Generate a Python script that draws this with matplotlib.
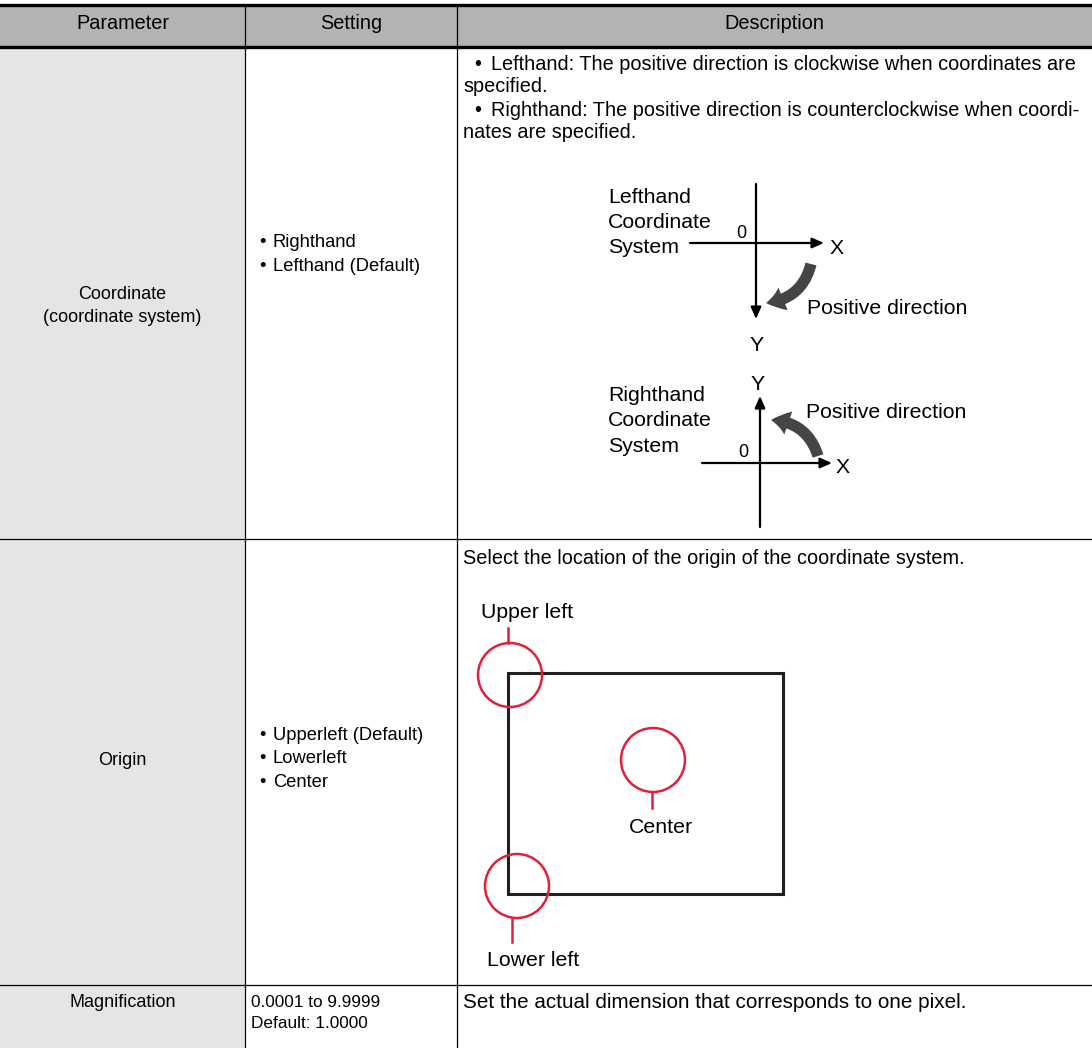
import matplotlib
matplotlib.use("Agg")
import matplotlib.pyplot as plt
from matplotlib.patches import Rectangle, Circle, FancyArrowPatch

plt.rcParams['font.family'] = ['Liberation Sans', 'DejaVu Sans']

W, H = 1092, 1048

# ---- table content ----
headers = ["Parameter", "Setting", "Description"]
col_edges = [0, 245, 457, 1092]
row_edges = [48, 539, 985, 1048]

param_labels = [["Coordinate", "(coordinate system)"], ["Origin"], ["Magnification"]]
param_y = [[293, 316], [759], [1001]]

setting_bullets = [["Righthand", "Lefthand (Default)"],
                   ["Upperleft (Default)", "Lowerleft", "Center"]]
setting_bullet_y = [[241, 265], [734, 757, 781]]
mag_setting = ["0.0001 to 9.9999", "Default: 1.0000"]
mag_setting_y = [1001, 1022]

coord_desc = [("Lefthand: The positive direction is clockwise when coordinates are", True),
              ("specified.", False),
              ("Righthand: The positive direction is counterclockwise when coordi-", True),
              ("nates are specified.", False)]
coord_desc_y = [63, 85, 109, 131]

origin_desc = "Select the location of the origin of the coordinate system."
mag_desc = "Set the actual dimension that corresponds to one pixel."

left_sys = ["Lefthand", "Coordinate", "System"]
right_sys = ["Righthand", "Coordinate", "System"]
origin_labels = ["Upper left", "Center", "Lower left"]

HEADER_GRAY = "#b3b3b3"
PARAM_GRAY = "#e5e5e5"
RED = "#e3203b"
DARK = "#231f20"
ARROW_GRAY = "#454545"

fig = plt.figure(figsize=(W / 100, H / 100), dpi=100)
ax = fig.add_axes([0, 0, 1, 1])
ax.set_xlim(0, W)
ax.set_ylim(H, 0)
ax.axis("off")

FS_HEAD = 14.3
FS_PARAM = 13.0
FS_SET = 13.2
FS_MAGSET = 12.4
FS_DESC = 14.3
FS_MAGDESC = 14.9
FSD = 15.3
FS0 = 13
DY = 1.5


def txt(x, y, s, fs, ha="left"):
    ax.text(x, y + DY, s, ha=ha, va="center", fontsize=fs)


# backgrounds
ax.add_patch(Rectangle((0, 5), W, 42, facecolor=HEADER_GRAY, edgecolor="none"))
ax.add_patch(Rectangle((0, 48), col_edges[1], H - 48, facecolor=PARAM_GRAY, edgecolor="none"))

# grid lines
ax.plot([0, W], [5, 5], color="black", lw=2.4)
ax.plot([0, W], [47, 47], color="black", lw=2.4)
for y in row_edges[1:-1]:
    ax.plot([0, W], [y, y], color="black", lw=0.9)
for x in col_edges[1:-1]:
    ax.plot([x, x], [5, H], color="black", lw=0.9)

# header
for i, h in enumerate(headers):
    txt((col_edges[i] + col_edges[i + 1]) / 2, 22, h, FS_HEAD, ha="center")

# parameter column
for labels, ys in zip(param_labels, param_y):
    for t, y in zip(labels, ys):
        txt(col_edges[1] / 2, y, t, FS_PARAM, ha="center")

# setting column
for lines, ys in zip(setting_bullets, setting_bullet_y):
    for t, y in zip(lines, ys):
        txt(262, y, "•", FS_SET, ha="center")
        txt(273, y, t, FS_SET)
for t, y in zip(mag_setting, mag_setting_y):
    txt(251, y, t, FS_MAGSET)

# description column
for (t, bullet), y in zip(coord_desc, coord_desc_y):
    if bullet:
        txt(478, y, "•", FS_DESC, ha="center")
        txt(491, y, t, FS_DESC)
    else:
        txt(463, y, t, FS_DESC)
txt(463, 557, origin_desc, FS_DESC)
txt(463, 1001, mag_desc, FS_MAGDESC)

# ---- Lefthand diagram ----
ax_kw = dict(arrowstyle="-|>,head_length=0.5,head_width=0.22", lw=1.6, color="black",
             mutation_scale=14, shrinkA=0, shrinkB=0)
curve_kw = dict(arrowstyle="simple,head_length=0.9,head_width=1.25,tail_width=0.58",
                mutation_scale=14, color=ARROW_GRAY, lw=0, shrinkA=0, shrinkB=0)
ax.add_patch(FancyArrowPatch((756, 184), (756, 319), **ax_kw))
ax.add_patch(FancyArrowPatch((690, 243), (824, 243), **ax_kw))
for t, y in zip(left_sys, [196, 221, 246]):
    txt(608, y, t, FSD)
txt(741, 232, "0", FS0, ha="center")
txt(837, 247, "X", FSD, ha="center")
txt(757, 344, "Y", FSD, ha="center")
txt(807, 307, "Positive direction", FSD)
ax.add_patch(FancyArrowPatch((811, 264), (766, 303), connectionstyle="arc3,rad=-0.35", **curve_kw))

# ---- Righthand diagram ----
ax.add_patch(FancyArrowPatch((760, 527), (760, 396), **ax_kw))
ax.add_patch(FancyArrowPatch((702, 463), (832, 463), **ax_kw))
for t, y in zip(right_sys, [394, 419, 445]):
    txt(608, y, t, FSD)
txt(743, 451, "0", FS0, ha="center")
txt(843, 466, "X", FSD, ha="center")
txt(758, 383, "Y", FSD, ha="center")
txt(806, 411, "Positive direction", FSD)
ax.add_patch(FancyArrowPatch((818, 456), (771, 420), connectionstyle="arc3,rad=0.35", **curve_kw))

# ---- Origin diagram ----
ax.add_patch(Rectangle((508, 673), 275, 221, facecolor="none", edgecolor=DARK, lw=2.2))
circles = [((510, 675), (508, 628, 643)), ((653, 760), (652, 792, 808)), ((517, 886), (512, 918, 942))]
for (c, (lx, y0, y1)) in circles:
    ax.add_patch(Circle(c, 32, facecolor="none", edgecolor=RED, lw=1.8))
    ax.plot([lx, lx], [y0, y1], color=RED, lw=1.8)
txt(481, 611, origin_labels[0], FSD)
txt(661, 826, origin_labels[1], FSD, ha="center")
txt(533, 959, origin_labels[2], FSD, ha="center")

fig.savefig("out.png", dpi=100)
